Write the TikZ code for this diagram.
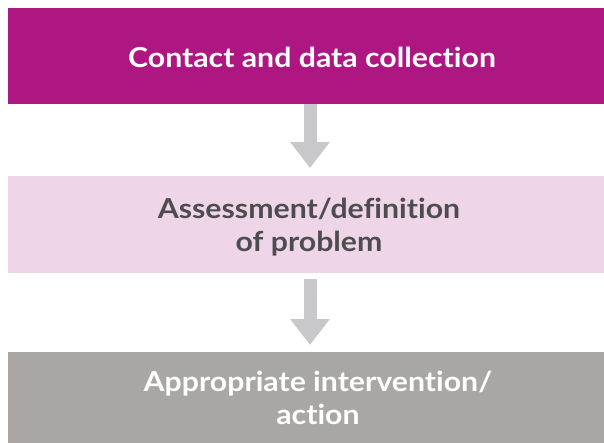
\documentclass[tikz,border=0pt]{standalone}
\usepackage{fontspec}
\setmainfont{Lato}[Ligatures=NoCommon, FakeStretch=1.1]
\usetikzlibrary{arrows.meta}

\definecolor{stepmagenta}{HTML}{AE1782}
\definecolor{steppink}{HTML}{EFD5E8}
\definecolor{stepgray}{HTML}{A8A7A6}
\definecolor{arrowgray}{HTML}{C8C8CA}
\definecolor{textdark}{HTML}{4D4D4F}

\begin{document}
\begin{tikzpicture}[x=1pt,y=-1pt,
  stepbox/.style={rectangle, inner sep=0pt, outer sep=0pt, draw=none,
    minimum width=596pt},
  steptext/.style={inner sep=0pt, align=center, font=\fontsize{27.5}{33}\selectfont\bfseries},
  blockarrow/.style={draw=arrowgray, line width=13pt,
    -{Triangle[width=38pt,length=26pt]}}
]
\useasboundingbox (0,0) rectangle (604,443);

% the three stages
\node[stepbox, fill=stepmagenta, minimum height=96pt] (b1) at (306,56) {};
\node[stepbox, fill=steppink,    minimum height=97pt] (b2) at (306,224.5) {};
\node[stepbox, fill=stepgray,    minimum height=91pt] (b3) at (306,397.5) {};

% stage labels
\node[steptext, text=white]    (t1) at (312,57) {Contact and data collection};
\node[steptext, text=textdark] (t2) at (309,227) {Assessment/definition\\of problem};
\node[steptext, text=white]    (t3) at (318,398) {Appropriate intervention/\\action};

% flow arrows
\draw[blockarrow, shorten >=8pt] ([xshift=4pt]b1.south) -- ([xshift=4pt]b2.north);
\draw[blockarrow, shorten <=6pt, shorten >=7pt] ([xshift=4pt]b2.south) -- ([xshift=4pt]b3.north);
\end{tikzpicture}
\end{document}
